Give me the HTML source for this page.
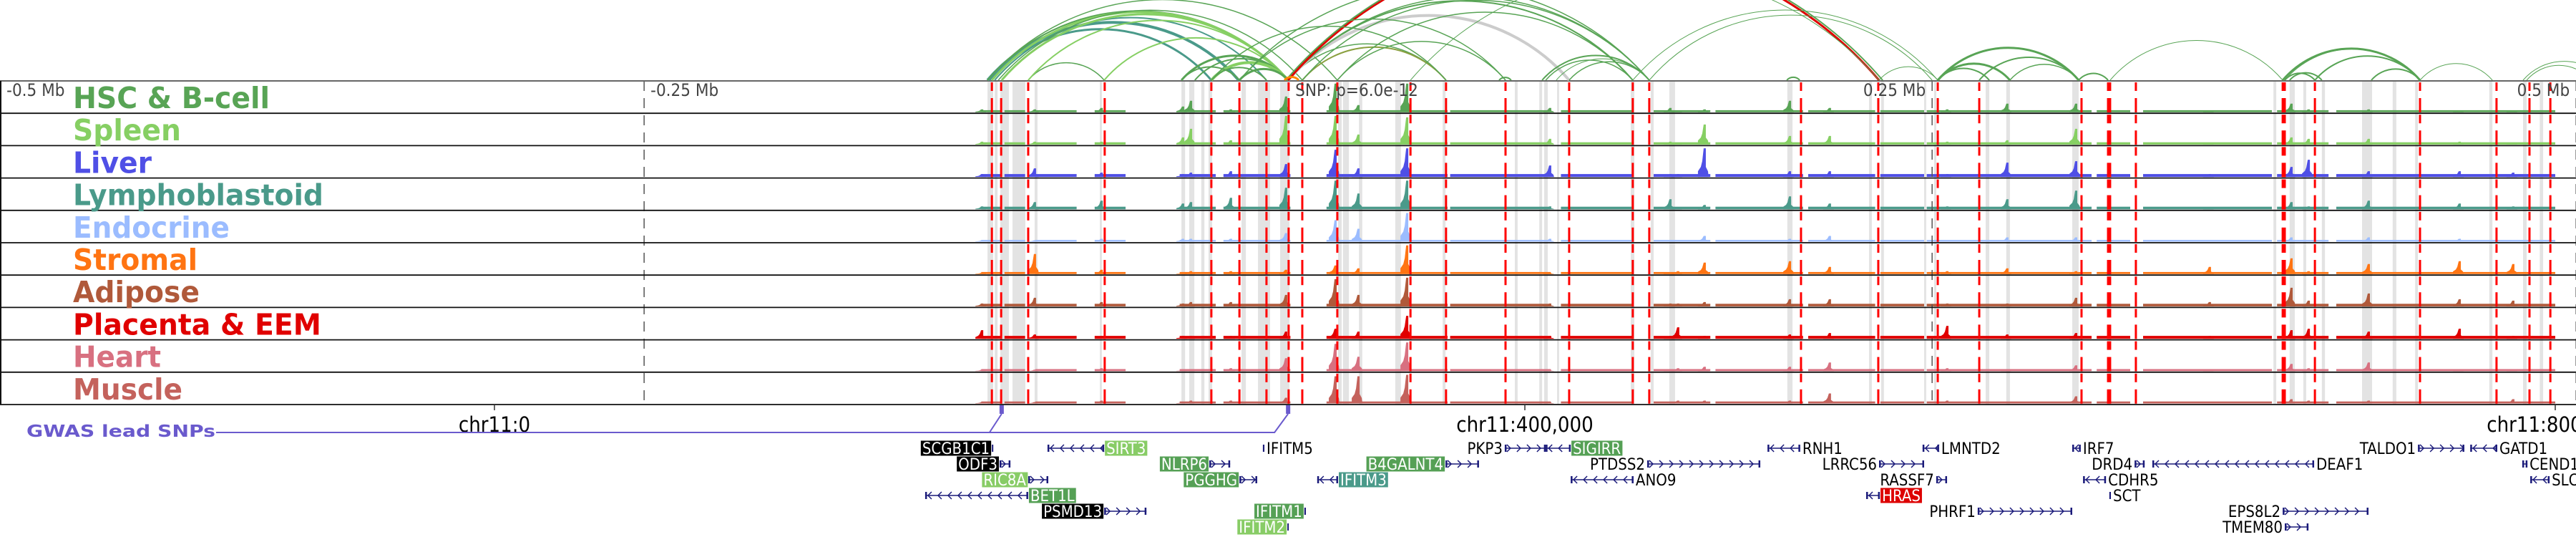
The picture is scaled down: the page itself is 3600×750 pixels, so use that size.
<!DOCTYPE html>
<html><head><meta charset="utf-8">
<style>
html,body{margin:0;padding:0;background:#fff;}
svg{display:block;}
text{font-family:"DejaVu Sans Condensed","DejaVu Sans","Liberation Sans",sans-serif;font-stretch:condensed;}
</style></head>
<body>
<svg id="chart" width="3600" height="750" viewBox="0 0 3600 750" xmlns="http://www.w3.org/2000/svg">
<defs><clipPath id="arcclip"><rect x="0" y="0" width="3600" height="113"/></clipPath></defs>
</svg>
<script>
// ---------- data (positions in kb on chr11) ----------
const trackNames = ["HSC & B-cell","Spleen","Liver","Lymphoblastoid","Endocrine","Stromal","Adipose","Placenta & EEM","Heart","Muscle"];
const trackColors = ["#58a455","#86cf63","#4f4fe6","#4a9a8a","#9bbcff","#ff7412","#b0593a","#e00000","#d87080","#c4625c"];
const trackLabelWidths = [275,151,110,350,219,174,177,347,123,153];
const bgLevels = [0.07,0.08,0.1,0.09,0.06,0.07,0.09,0.1,0.07,0.07];
const bgStart = [189,198,210,233,266,283,323,371,414,450,474,510,538,556,622,640,692,715];
const bgEnd   = [197,206,226,245,280,309,370,410,442,472,508,536,555,620,635,690,712,800];
const peakPos = [189.2,209.7,235.6,267.2,270.3,285.8,307.2,326.4,335.3,354.2,409.7,456.4,459.4,469.7,502.8,518.3,563.9,587.2,613.9,665.8,697.5,704.2,727.5,762.8,783.6];
const hHSC   = [.1,.1,.15,.2,.4,.1,.55,1,.25,1,.15,.15,.05,.1,.4,.15,.1,.3,.3,.05,.3,.1,.1,.05,.05];
const hSpleen= [.1,.1,.1,.25,.55,.15,1,1,.35,.95,.2,.1,.05,.7,.3,.3,.1,.15,.55,.05,.25,.2,.2,.1,.05];
const hLiver = [.1,.3,.15,.1,.15,.2,.45,.95,.3,1,.4,.1,.1,1,.2,.2,.1,.5,.55,.1,.35,.6,.2,.2,.15];
const hLympho= [.1,.25,.3,.2,.25,.4,.75,1,.55,1,.1,.35,.05,.15,.45,.2,.1,.35,.65,.05,.25,.1,.3,.2,.1];
const hEndo  = [.05,.05,.1,.1,.1,.1,.3,.75,.45,1,.1,.05,.05,.2,.1,.2,.05,.15,.15,.05,.15,.05,.15,.1,.05];
const hStroma= [.05,.7,.15,.05,.1,.1,.15,.3,.2,1,.05,.05,.1,.4,.45,.25,.1,.2,.1,.25,.55,.1,.35,.45,.35];
const hAdip  = [.1,.3,.15,.1,.15,.15,.4,.95,.4,1,.1,.1,.1,.15,.25,.25,.1,.1,.3,.15,.65,.2,.45,.25,.2];
const hPlac  = [.3,.15,.1,.1,.1,.1,.25,.35,.25,.8,.1,.1,.4,.1,.15,.2,.45,.15,.2,.1,.3,.35,.25,.35,.1];
const hHeart = [.05,.05,.1,.05,.05,.1,.45,.95,.5,1,.05,.05,.1,.15,.15,.3,.1,.05,.2,.05,.25,.1,.3,.05,.05];
const hMuscle= [.05,.05,.1,.05,.1,.1,.2,.95,.95,1,.05,.05,.1,.1,.1,.35,.1,.05,.25,.05,.15,.1,.1,.05,.15];
const redLines = [193.1,196.7,207.2,236.9,278.3,289.2,299.7,308.3,313.6,327.2,355.6,369.4,392.5,417.2,441.9,448.3,507.2,537.2,560.3,576.4,616.1,626.4,627.2,637.2,694.2,695.0,706.7,747.5,777.2,790.0,798.1];
const bandStart = [191.4,194.2,196.4,201.1,209.7,235.0,266.7,269.7,274.4,277.2,290.0,296.4,305.0,327.5,329.4,335.6,349.7,368.1,396.1,405.6,407.5,412.5,441.1,448.9,456.1,501.9,533.6,538.3,555.0,558.9,578.9,586.9,612.5,690.6,696.9,702.2,709.4,725.0,736.9,745.6,774.4,787.5,794.0];
const bandEnd   = [193.6,195.3,199.7,206.1,210.8,235.8,268.1,271.7,275.6,278.6,291.7,301.1,308.6,328.9,331.7,336.9,351.9,369.2,397.2,406.7,408.9,413.3,442.5,450.0,458.3,503.9,534.7,539.4,555.8,559.7,580.3,588.3,615.0,691.7,698.9,703.3,710.6,728.9,738.3,746.7,775.6,788.9,795.3];
const arcStart = [191.4,192.2,191.4,193.1,194.2,195.6,196.9,207.2,207.2,236.7,191.4,266.7,271.9,278.3,289.2,266.7,278.3,308.1,308.1,308.1,308.1,308.1,307.2,313.6,327.2,327.2,289.2,313.6,406.7,408.1,412.2,417.2,390.0,441.9,448.3,501.7,355.6,537.5,560.3,560.3,560.3,576.4,588.3,615.0,627.2,694.2,695.0,696.9,706.7,728.6,747.5,787.5,788.9,695.0,306.7,278.3,289.2];
const arcEnd   = [288.9,278.3,308.1,308.1,299.7,313.6,308.1,236.7,308.1,308.1,327.2,308.1,308.1,308.1,308.1,289.2,299.7,369.4,417.2,441.9,448.3,537.5,538.9,369.4,392.5,441.9,448.3,448.3,448.3,441.9,448.3,448.3,394.7,560.3,558.1,506.7,537.5,560.3,615.0,588.3,580.3,615.0,615.0,626.4,694.2,747.5,706.7,709.4,747.5,747.5,775.6,819.4,813.9,747.5,312.2,369.4,392.5];
const arcKind  = ["t","t","g","l","t","g","l","g","l","l","g","g","g","l","g","g","g","g","s","g","g","r","g","o","g","g","g","g","g","g","g","g","g","g","g","g","g","g","g","g","g","g","g","g","g","g","g","g","g","g","g","g","g","g","y","g","g"];
const arcWidth = [4,3,2,3,2,1.5,3,1.5,2,2,1.5,3,2,4,3,2,2,1.5,4,2,1.5,3,2,2,1.5,1.5,1.5,1.5,2,1.5,1,1.5,2,1,1,2,1,1,3,3,2,2,1.5,2,1,3,2,2,2,2,1,1,1,1,3,1.5,1.5];
const topTickMb = [-0.5,-0.25,0.25,0.5];
const topTickLabels = ["-0.5 Mb","-0.25 Mb","0.25 Mb","0.5 Mb"];
const snpKb = 308.1;
const axisTicksKb = [0,400,800];
const axisTickLabels = ["chr11:0","chr11:400,000","chr11:800,000"];
const gwasSnps = [196.9,308.1];
const geneNames = ["SCGB1C1","SIRT3","IFITM5","PKP3","SIGIRR","ODF3","NLRP6","B4GALNT4","PTDSS2","RIC8A","PGGHG","IFITM3","ANO9","BET1L","PSMD13","IFITM1","IFITM2","RNH1","LMNTD2","IRF7","TALDO1","GATD1","LRRC56","DRD4","DEAF1","CEND1","RASSF7","CDHR5","SLC25A22","HRAS","SCT","PHRF1","EPS8L2","TMEM80"];
const geneRow  = [0,0,0,0,0,1,1,1,1,2,2,2,2,3,4,4,5,0,0,0,0,0,1,1,1,1,2,2,2,3,3,4,4,5];
const geneStart= [193.1,214.7,298.3,392.2,408.1,196.1,277.5,369.2,447.5,207.2,289.2,319.4,417.8,167.2,236.7,314.4,307.8,494.2,554.4,612.5,746.7,767.0,537.5,636.7,643.6,787.2,559.7,616.7,790.3,532.5,626.9,575.8,694.2,695.0];
const geneEnd  = [193.6,236.7,298.9,408.1,417.8,200.3,285.6,382.2,491.4,215.0,296.1,327.5,442.2,207.2,253.1,315.0,308.3,506.9,560.8,615.8,764.7,777.5,555.0,640.6,706.4,789.2,563.9,625.6,797.8,537.8,627.5,612.5,727.5,704.2];
const geneStrand=["0","-","0","+","-","+","+","+","+","+","+","-","-","-","+","0","0","-","-","-","+","-","+","+","-","-","+","-","-","-","0","+","+","+"];
const geneSide = ["L","R","R","L","R","L","L","L","L","L","L","R","R","R","L","L","L","R","R","R","L","R","L","L","R","R","L","R","R","R","R","L","L","L"];
const geneBox  = ["k","l","","","g","k","g","g","","l","g","t","","g","k","g","l","","","","","","","","","","","","","r","","","",""];

// ---------- scales ----------
const X = kb => 691 + kb*3.6;
const ROW0 = 113, ROWH = 45.2, NR = 10;
const rowTop = i => ROW0 + i*ROWH;
const H = f => Math.min(f,1.02)*40;
const NS = "http://www.w3.org/2000/svg";
const svg = document.getElementById("chart");
function mk(tag, attrs, parent){const e=document.createElementNS(NS,tag);for(const k in attrs)e.setAttribute(k,attrs[k]);(parent||svg).appendChild(e);return e;}
const heights=[hHSC,hSpleen,hLiver,hLympho,hEndo,hStroma,hAdip,hPlac,hHeart,hMuscle];

const gBands = mk("g",{});


for(let i=0;i<bandStart.length;i++){
  const r=mk("rect",{x:X(bandStart[i]),y:ROW0,width:Math.max(2,X(bandEnd[i])-X(bandStart[i])),height:NR*ROWH,fill:"#e3e3e3"},gBands);
  
  
}
for(let t=0;t<NR;t++){
  const g=mk("g",{fill:trackColors[t]});
  
  
  const b=rowTop(t)+ROWH-1.5;
  for(let s=0;s<bgStart.length;s++){
    const r=mk("rect",{x:X(bgStart[s]),y:b-H(bgLevels[t]),width:X(bgEnd[s])-X(bgStart[s]),height:H(bgLevels[t])},g);
    
    
  }
  for(let p=0;p<peakPos.length;p++){
    const x=X(peakPos[p]), h=H(heights[t][p]);
    const pts=[[x-9,b],[x-9,b-0.2*h],[x-5,b-0.35*h],[x-3,b-0.55*h],[x-1,b-h],[x+2,b-h],[x+2,b-0.35*h],[x+5,b-0.2*h],[x+6,b]];
    const pg=mk("polygon",{points:pts.map(q=>q.join(",")).join(" ")},g);
    
    
  }
}
const gRed=mk("g",{stroke:"#ff0000","stroke-width":3});


for(const kb of redLines){
  for(let t=0;t<NR;t++){
    const y=rowTop(t);
    const l1=mk("line",{x1:X(kb),x2:X(kb),y1:y+2,y2:y+14},gRed);
    
    
    const l2=mk("line",{x1:X(kb),x2:X(kb),y1:y+24,y2:y+44},gRed);
    
    
  }
}
for(let i=0;i<topTickMb.length;i++){
  const x=X(snpKb+topTickMb[i]*1000);
  const l=mk("line",{x1:x,x2:x,y1:ROW0,y2:ROW0+NR*ROWH,stroke:"#555","stroke-width":1.5,"stroke-dasharray":"14 10"});
  
  
  const right=topTickMb[i]>0;
  const tx=mk("text",{x:right?x-9:x+9,y:134,"font-size":24,fill:"#444","text-anchor":right?"end":"start"});
  tx.textContent=topTickLabels[i];
  
  
}
const snpT=mk("text",{x:X(snpKb)+10,y:134,"font-size":24,fill:"#444"});
snpT.textContent="SNP: p=6.0e-12";


for(let t=0;t<=NR;t++){
  const l=mk("line",{x1:0,x2:3600,y1:rowTop(t),y2:rowTop(t),stroke:t==0?"#666":"#111","stroke-width":t==0?2:1.8});
  
  
}
const lb=mk("line",{x1:1,x2:1,y1:ROW0,y2:ROW0+NR*ROWH,stroke:"#111","stroke-width":2});


for(let t=0;t<NR;t++){
  const tx=mk("text",{x:102,y:rowTop(t)+38,"font-size":41,"font-weight":"bold",fill:trackColors[t],textLength:trackLabelWidths[t],lengthAdjust:"spacingAndGlyphs"});
  tx.textContent=trackNames[t];
  
  
}
const arcColors={g:"#58a455",t:"#4a9a8a",l:"#86cf63",s:"#cccccc",r:"#e00000",o:"#8aa040",y:"#ff8800"};
const gArc=mk("g",{fill:"none","clip-path":"url(#arcclip)"});


for(let i=0;i<arcStart.length;i++){
  const x1=X(arcStart[i]),x2=X(arcEnd[i]);const w=Math.abs(x2-x1);const h=0.23*w;
  const r=(w*w/4+h*h)/(2*h);
  const p=mk("path",{d:`M${Math.min(x1,x2)},112 A${r},${r} 0 0 1 ${Math.max(x1,x2)},112`,stroke:arcColors[arcKind[i]],"stroke-width":arcWidth[i]},gArc);
  
  
}
const ay=ROW0+NR*ROWH;
for(let i=0;i<axisTicksKb.length;i++){
  const x=X(axisTicksKb[i]);
  const l=mk("line",{x1:x,x2:x,y1:ay,y2:ay+8,stroke:"#333","stroke-width":1.5});
  
  
  const tx=mk("text",{x:x,y:603,"font-size":29,fill:"#000","text-anchor":"middle"});
  tx.textContent=axisTickLabels[i];
  
  
}
const gw=mk("text",{x:37,y:610,"font-size":23,"font-weight":"bold",fill:"#6a5acd",textLength:264,lengthAdjust:"spacingAndGlyphs"});
gw.textContent="GWAS lead SNPs";


const gwl=mk("polyline",{points:`302,604 ${X(gwasSnps[1])-19},604 ${X(gwasSnps[1])},578`,fill:"none",stroke:"#6a5acd","stroke-width":2});


const gwl2=mk("polyline",{points:`${X(gwasSnps[0])-17},604 ${X(gwasSnps[0])},578`,fill:"none",stroke:"#6a5acd","stroke-width":2});


for(const kb of gwasSnps){
  const r=mk("rect",{x:X(kb)-3,y:566,width:6,height:12,fill:"#6a5acd"});
  
  
}
const boxColors={k:"#000",l:"#88cc66",g:"#55a055",t:"#4a9a8a",r:"#dd0000"};
const gy=[626,648,670,692,714,736];
for(let i=0;i<geneNames.length;i++){
  const g=mk("g",{});
  
  
  const y=gy[geneRow[i]], x1=X(geneStart[i]), x2=X(geneEnd[i]);
  if(geneStrand[i]==="0"){
    mk("rect",{x:x1,y:y-5,width:Math.max(2,x2-x1),height:10,fill:"#1b1b7a"},g);
  } else {
    mk("line",{x1:x1,x2:x2,y1:y,y2:y,stroke:"#1b1b7a","stroke-width":1.5},g);
    const d=geneStrand[i]==="+"?1:-1;
    let path="";
    for(let x=x1+6;x<x2-2;x+=14){path+=`M${x-3*d},${y-5} L${x+2*d},${y} L${x-3*d},${y+5} `;}
    mk("path",{d:path,fill:"none",stroke:"#1b1b7a","stroke-width":1.5},g);
    mk("rect",{x:x1,y:y-5,width:2.5,height:10,fill:"#1b1b7a"},g);
    mk("rect",{x:x2-2.5,y:y-5,width:2.5,height:10,fill:"#1b1b7a"},g);
  }
  const L=geneSide[i]==="L";
  const tx=mk("text",{x:L?x1-3:x2+3,y:y+8,"font-size":22,"text-anchor":L?"end":"start",fill:geneBox[i]?"#fff":"#000"},g);
  tx.textContent=geneNames[i];
  
  
  if(geneBox[i]){
    const bb=tx.getBBox();
    const r=mk("rect",{x:bb.x-2,y:y-10.5,width:bb.width+4,height:21,fill:boxColors[geneBox[i]]});
    g.insertBefore(r,tx);
    
    
  }
}
</script>
</body></html>
